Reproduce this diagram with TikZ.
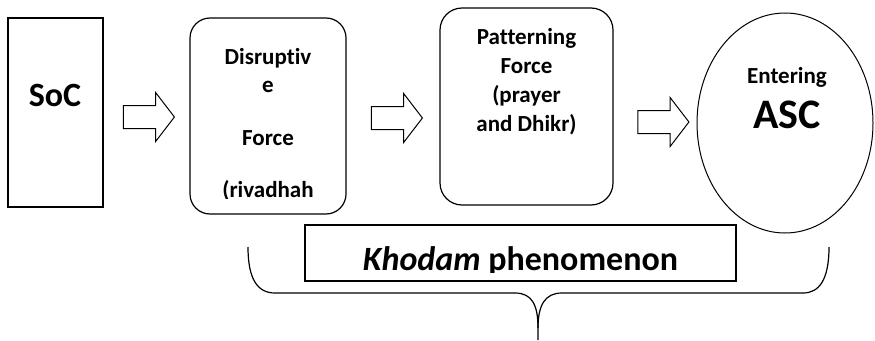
\documentclass[tikz,border=0pt]{standalone}
\usepackage{fontspec}
\setmainfont{Carlito}[Ligatures=CommonOff]
\usepackage{xcolor}
\definecolor{inkdark}{HTML}{000000}
\usepackage{tikz}
\usetikzlibrary{shapes,arrows.meta,positioning,calc}

\begin{document}
\begin{tikzpicture}[x=1pt, y=-1pt,
    stagebox/.style={draw=inkdark, line width=1.2pt, inner sep=0pt},
    roundbox/.style={stagebox, rounded corners=20pt},
    blockarrow/.style={draw=inkdark, line width=1pt, single arrow, single arrow head extend=13pt,
      single arrow tip angle=105, minimum height=51pt, minimum width=48pt, inner sep=11pt},
    stagetext/.style={font=\fontsize{23}{28}\selectfont\bfseries, text=inkdark, align=center}]
    \useasboundingbox (0,0) rectangle (875,340);

    % the four stages
    \node[stagebox, minimum width=95pt, minimum height=189pt] (soc) at (55.5,112.5) {};
    \node[roundbox, minimum width=156pt, minimum height=196pt] (disrupt) at (268,116) {};
    \node[roundbox, minimum width=173pt, minimum height=197pt, rounded corners=22pt] (pattern) at (526.5,106.5) {};
    \node[stagebox, ellipse, line width=1pt, minimum width=176pt, minimum height=220pt] (asc) at (785,123) {};

    \node[font=\fontsize{34}{40}\selectfont\bfseries, anchor=base] (soclbl) at (55,106) {SoC};
    \begin{scope}
      \clip (disrupt.north west) rectangle (346,198);
      \node[stagetext] (disruptlbl) at (268,125) {Disruptiv\\ e\\[25pt] Force\\[24pt] (rivadhah};
    \end{scope}
    \node[stagetext, font=\fontsize{23}{29}\selectfont\bfseries] (patternlbl) at (526.5,82) {Patterning\\ Force\\ (prayer\\ and Dhikr)};
    \node[stagetext, anchor=base] (enterlbl) at (787,83) {Entering};
    \node[font=\fontsize{42}{48}\selectfont\bfseries, anchor=base] (asclbl) at (787,128) {ASC};

    % block arrows between stages
    \node[blockarrow] (arrowA) at (144.5,117) {};
    \node[blockarrow] (arrowB) at (392.5,118) {};
    \node[blockarrow] (arrowC) at (659,122) {};

    % khodam label and brace
    \node[stagebox, minimum width=431pt, minimum height=56pt] (khodam) at (520.5,253) {};
    \begin{scope}
      \clip (khodam.north west) rectangle (736,272);
      \node[font=\fontsize{34}{40}\selectfont\bfseries, anchor=base] (khodamlbl) at (520.5,270) {\textit{Khodam} phenomenon};
    \end{scope}
    \draw[line width=1.2pt] (248,247) .. controls (248,280) and (258,293) .. (275,293) -- (515,293)
      .. controls (532,293) and (538,305) .. (538,328) -- (538,340);
    \draw[line width=1.2pt] (829,247) .. controls (829,280) and (819,293) .. (803,293) -- (562,293)
      .. controls (545,293) and (538,305) .. (538,328);
  \end{tikzpicture}
\end{document}
